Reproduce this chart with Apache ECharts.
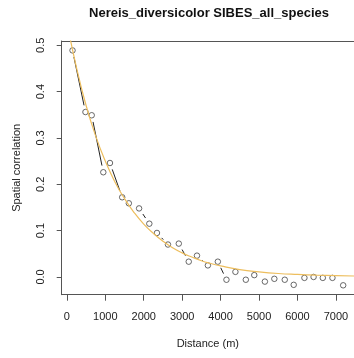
<!DOCTYPE html>
<html>
<head>
<meta charset="utf-8">
<script src="https://cdn.jsdelivr.net/npm/echarts@6/dist/echarts.min.js"></script>
<style>
html,body{margin:0;padding:0;background:#fff;}
#chart{width:354px;height:358px;}
</style>
</head>
<body>
<div id="chart"></div>
<script>
// Observed spatial correlation per distance class
const distance = [147, 483, 646, 948, 1121, 1439, 1612, 1879, 2145, 2344, 2630, 2912, 3171, 3385, 3669, 3928, 4152, 4385, 4656, 4876, 5152, 5398, 5669, 5902, 6181, 6419, 6659, 6910, 7189];
const correlation = [0.489, 0.356, 0.349, 0.226, 0.246, 0.172, 0.159, 0.148, 0.115, 0.095, 0.070, 0.072, 0.033, 0.046, 0.025, 0.033, -0.006, 0.011, -0.006, 0.004, -0.010, -0.004, -0.006, -0.017, -0.002, 0.000, -0.002, -0.002, -0.018];

// Fitted curve
const fitDistance = [0, 250, 500, 750, 1000, 1250, 1500, 1750, 2000, 2250, 2500, 2750, 3000, 3250, 3500, 3750, 4000, 4500, 5000, 5500, 6000, 6500, 7000, 7500];
const fitCorrelation = [0.55, 0.452, 0.370, 0.304, 0.250, 0.205, 0.169, 0.139, 0.114, 0.094, 0.077, 0.063, 0.052, 0.043, 0.035, 0.029, 0.024, 0.016, 0.011, 0.0075, 0.0055, 0.004, 0.003, 0.002];

// Tick labels
const xTicks = [0, 1000, 2000, 3000, 4000, 5000, 6000, 7000];
const yTicks = [0.0, 0.1, 0.2, 0.3, 0.4, 0.5];

const titleText = 'Nereis_diversicolor SIBES_all_species';
const xName = 'Distance (m)';
const yName = 'Spatial correlation';

// R-style 4% range extension
const xMinD = Math.min(...distance), xMaxD = Math.max(...distance);
const yMinD = Math.min(...correlation), yMaxD = Math.max(...correlation);
const xMin = xMinD - 0.04 * (xMaxD - xMinD), xMax = xMaxD + 0.04 * (xMaxD - xMinD);
const yMin = yMinD - 0.04 * (yMaxD - yMinD), yMax = yMaxD + 0.04 * (yMaxD - yMinD);

const points = distance.map((d, i) => [d, correlation[i]]);
const segments = [];
for (let i = 0; i < distance.length - 1; i++) {
  segments.push([distance[i], correlation[i], distance[i + 1], correlation[i + 1]]);
}
const fit = fitDistance.map((d, i) => [d, fitCorrelation[i]]);

const FONT = "'Liberation Sans', Arial, Helvetica, sans-serif";
const FRAME = '#555';
const chart = echarts.init(document.getElementById('chart'), null, {renderer: 'canvas'});
chart.setOption({
  animation: false,
  backgroundColor: '#ffffff',
  title: {
    text: titleText,
    left: 209, top: 7, padding: 0,
    textAlign: 'center',
    textStyle: {fontFamily: FONT, fontSize: 13, fontWeight: 'bold', color: '#111'}
  },
  grid: {
    left: 61.7, top: 41, right: -2.3, bottom: 63.3,
    show: false
  },
  xAxis: [{
    type: 'value', min: xMin, max: xMax, position: 'bottom',
    name: xName, nameLocation: 'middle', nameGap: 44,
    nameTextStyle: {fontFamily: FONT, fontSize: 11, color: '#222'},
    axisLine: {show: true, onZero: false, lineStyle: {color: FRAME, width: 1}},
    splitLine: {show: false},
    axisTick: {show: true, inside: false, length: 6, customValues: xTicks, lineStyle: {color: FRAME}},
    axisLabel: {show: true, customValues: xTicks, margin: 17, fontFamily: FONT, fontSize: 11, color: '#222',
      formatter: v => String(Math.round(v))}
  }, {
    type: 'value', min: xMin, max: xMax, position: 'top',
    axisLine: {show: true, onZero: false, lineStyle: {color: FRAME, width: 1}},
    axisTick: {show: false}, axisLabel: {show: false}, splitLine: {show: false}
  }],
  yAxis: {
    type: 'value', min: yMin, max: yMax,
    name: yName, nameLocation: 'middle', nameGap: 39, nameRotate: 90,
    nameTextStyle: {fontFamily: FONT, fontSize: 11, color: '#222'},
    axisLine: {show: true, onZero: false, lineStyle: {color: FRAME, width: 1}},
    splitLine: {show: false},
    axisTick: {show: true, inside: false, length: 5, customValues: yTicks, lineStyle: {color: FRAME}},
    axisLabel: {show: true, customValues: yTicks, rotate: 90, margin: 15, fontFamily: FONT, fontSize: 11, color: '#222',
      formatter: v => v.toFixed(1)}
  },
  series: [
    {
      type: 'custom',
      name: 'links',
      data: segments,
      encode: {x: [0, 2], y: [1, 3]},
      clip: true,
      z: 2,
      renderItem: function (params, api) {
        const p1 = api.coord([api.value(0), api.value(1)]);
        const p2 = api.coord([api.value(2), api.value(3)]);
        const dx = p2[0] - p1[0], dy = p2[1] - p1[1];
        const d = Math.hypot(dx, dy);
        const gap = 6.8;
        if (d <= 2 * gap) return null;
        const ux = dx / d, uy = dy / d;
        return {
          type: 'line',
          shape: {x1: p1[0] + ux * gap, y1: p1[1] + uy * gap, x2: p2[0] - ux * gap, y2: p2[1] - uy * gap},
          style: {stroke: '#222', lineWidth: 1}
        };
      }
    },
    {
      type: 'scatter',
      name: 'observed',
      data: points,
      symbol: 'circle',
      symbolSize: 5.5,
      z: 3,
      itemStyle: {color: 'rgba(0,0,0,0)', borderColor: '#444', borderWidth: 1}
    },
    {
      type: 'line',
      name: 'fit',
      data: fit,
      smooth: true,
      showSymbol: false,
      clip: true,
      z: 4,
      lineStyle: {color: '#EDBE5E', width: 1.2}
    }
  ]
});
</script>
</body>
</html>
